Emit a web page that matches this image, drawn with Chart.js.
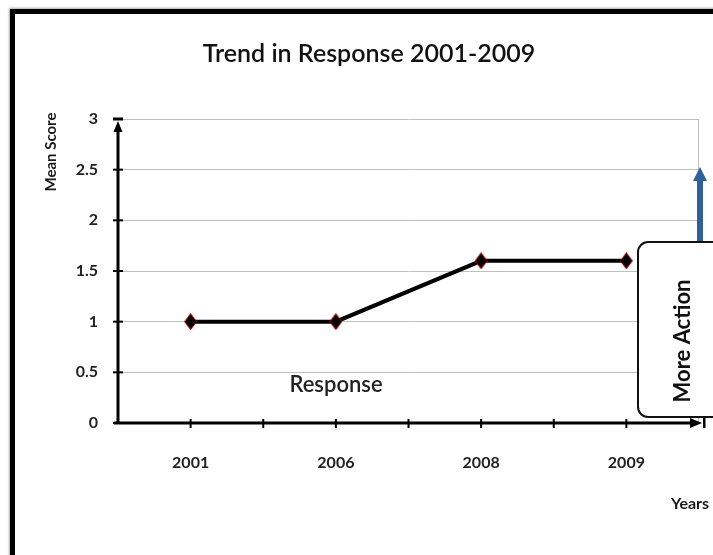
<!DOCTYPE html>
<html><head><meta charset="utf-8">
<script src="https://cdn.jsdelivr.net/npm/chart.js@4.4.1/dist/chart.umd.min.js"></script>
<style>
html,body{margin:0;padding:0;background:#fff;width:713px;height:555px;overflow:hidden}
#frame{position:absolute;left:10px;top:9px;width:730px;height:570px;border-left:5px solid #000;border-top:5px solid #000;box-shadow:-1px -1px 2px rgba(0,0,0,0.35)}
#wrap{position:absolute;left:0;top:0;width:713px;height:555px}
</style></head><body>
<div id="frame"></div>
<div id="wrap"><canvas id="c" width="713" height="555"></canvas></div>
<script>
const categories = ['2001', '2006', '2008', '2009'];
const meanScores = [1, 1, 1.6, 1.6];
const yTicks = [0, 0.5, 1, 1.5, 2, 2.5, 3];
const titleText = 'Trend in Response 2001-2009';
const yAxisTitle = 'Mean Score';
const xAxisTitle = 'Years';
const seriesLabel = 'Response';
const calloutText = 'More Action';

function diamond() {
  const c = document.createElement('canvas');
  c.width = 13; c.height = 17;
  const g = c.getContext('2d');
  g.beginPath();
  g.moveTo(6.5, 0.5); g.lineTo(12.5, 8.5); g.lineTo(6.5, 16.5); g.lineTo(0.5, 8.5); g.closePath();
  g.fillStyle = '#000'; g.fill();
  g.strokeStyle = '#c00000'; g.lineWidth = 1; g.stroke();
  return c;
}

const decor = {
  id: 'decor',
  beforeDatasetsDraw(chart) {
    const { ctx, chartArea: a, scales: { x, y } } = chart;
    ctx.save();
    ctx.strokeStyle = '#bdbdbd'; ctx.lineWidth = 1;
    ctx.beginPath(); ctx.moveTo(a.right - 0.5, a.top); ctx.lineTo(a.right - 0.5, a.bottom); ctx.stroke();
    ctx.strokeStyle = '#000'; ctx.fillStyle = '#000';
    // y axis
    ctx.lineWidth = 3;
    ctx.beginPath(); ctx.moveTo(a.left, a.bottom); ctx.lineTo(a.left, a.top + 8); ctx.stroke();
    ctx.beginPath(); ctx.moveTo(a.left, a.top + 2); ctx.lineTo(a.left - 4.5, a.top + 13); ctx.lineTo(a.left + 4.5, a.top + 13); ctx.closePath(); ctx.fill();
    ctx.fillRect(a.left - 5, a.top - 1.5, 10, 3);
    ctx.lineWidth = 2;
    yTicks.forEach(v => {
      const py = y.getPixelForValue(v);
      ctx.beginPath(); ctx.moveTo(a.left - 5, py); ctx.lineTo(a.left + 5, py); ctx.stroke();
    });
    // x axis
    ctx.lineWidth = 3;
    ctx.beginPath(); ctx.moveTo(a.left - 4, a.bottom); ctx.lineTo(a.right - 4, a.bottom); ctx.stroke();
    ctx.beginPath(); ctx.moveTo(a.right + 3, a.bottom); ctx.lineTo(a.right - 9, a.bottom - 5); ctx.lineTo(a.right - 9, a.bottom + 5); ctx.closePath(); ctx.fill();
    ctx.fillRect(a.right + 4, a.bottom - 5, 2.5, 10);
    ctx.lineWidth = 2;
    const xs = [];
    categories.forEach((c, i) => {
      xs.push(x.getPixelForValue(i));
      if (i < categories.length - 1) xs.push((x.getPixelForValue(i) + x.getPixelForValue(i + 1)) / 2);
    });
    xs.forEach(px => { ctx.beginPath(); ctx.moveTo(px, a.bottom - 4); ctx.lineTo(px, a.bottom + 5); ctx.stroke(); });
    ctx.restore();
  },
  afterDraw(chart) {
    const { ctx } = chart;
    ctx.save();
    // y axis title
    ctx.fillStyle = '#1a1a1a';
    ctx.font = 'bold 15px Lato';
    ctx.textAlign = 'center'; ctx.textBaseline = 'middle';
    ctx.save(); ctx.translate(51, 152); ctx.rotate(-Math.PI / 2); ctx.fillText(yAxisTitle, 0, 0); ctx.restore();
    // x axis title
    ctx.font = 'bold 16px Lato';
    ctx.fillText(xAxisTitle, 690, 504);
    // series label
    ctx.font = '600 22px Lato';
    ctx.fillStyle = '#222';
    ctx.fillText(seriesLabel, 336, 385);
    // blue arrow
    ctx.fillStyle = '#2f5f98';
    ctx.fillRect(697, 179, 6, 63);
    ctx.beginPath(); ctx.moveTo(700, 167); ctx.lineTo(707, 181); ctx.lineTo(693, 181); ctx.closePath(); ctx.fill();
    // callout box
    ctx.beginPath();
    ctx.roundRect(638, 242, 95, 175, 10);
    ctx.fillStyle = '#fff'; ctx.fill();
    ctx.lineWidth = 2; ctx.strokeStyle = '#111'; ctx.stroke();
    ctx.fillStyle = '#111';
    ctx.font = 'bold 22px Lato';
    ctx.save(); ctx.translate(683, 341); ctx.rotate(-Math.PI / 2); ctx.fillText(calloutText, 0, 0); ctx.restore();
    ctx.restore();
  }
};

function build() {
  new Chart(document.getElementById('c'), {
    type: 'line',
    data: {
      labels: categories,
      datasets: [{
        label: seriesLabel,
        data: meanScores,
        borderColor: '#000',
        borderWidth: 4,
        pointStyle: diamond(),
        pointRadius: 7,
        tension: 0,
        fill: false
      }]
    },
    options: {
      responsive: false,
      animation: false,
      devicePixelRatio: 1,
      layout: { padding: { left: 39, right: 14, top: 0, bottom: 0 } },
      plugins: {
        legend: { display: false },
        tooltip: { enabled: false },
        title: {
          display: true,
          text: titleText,
          color: '#111',
          font: { family: 'Lato', size: 25, weight: '600', lineHeight: 1.2 },
          padding: { top: 39, bottom: 50 }
        }
      },
      scales: {
        x: {
          type: 'category',
          offset: true,
          grid: { display: false, drawTicks: false },
          border: { display: false },
          ticks: { color: '#222', font: { family: 'Lato', size: 16, weight: 'bold' }, padding: 30, maxRotation: 0 },
          afterFit(s) { s.height = 132; }
        },
        y: {
          min: 0, max: 3,
          afterBuildTicks(s) { s.ticks = yTicks.map(v => ({ value: v })); },
          grid: { color: '#bfbfbf', lineWidth: 1, drawTicks: false },
          border: { display: false },
          ticks: { color: '#222', font: { family: 'Lato', size: 16, weight: 'bold' }, padding: 20, callback: v => String(v) },
          afterFit(s) { s.width = 79; }
        }
      }
    },
    plugins: [decor]
  });
}

Promise.all([
  document.fonts.load('16px Lato'),
  document.fonts.load('bold 16px Lato'),
  document.fonts.load('600 16px Lato')
]).then(build, build);
</script>
</body></html>
